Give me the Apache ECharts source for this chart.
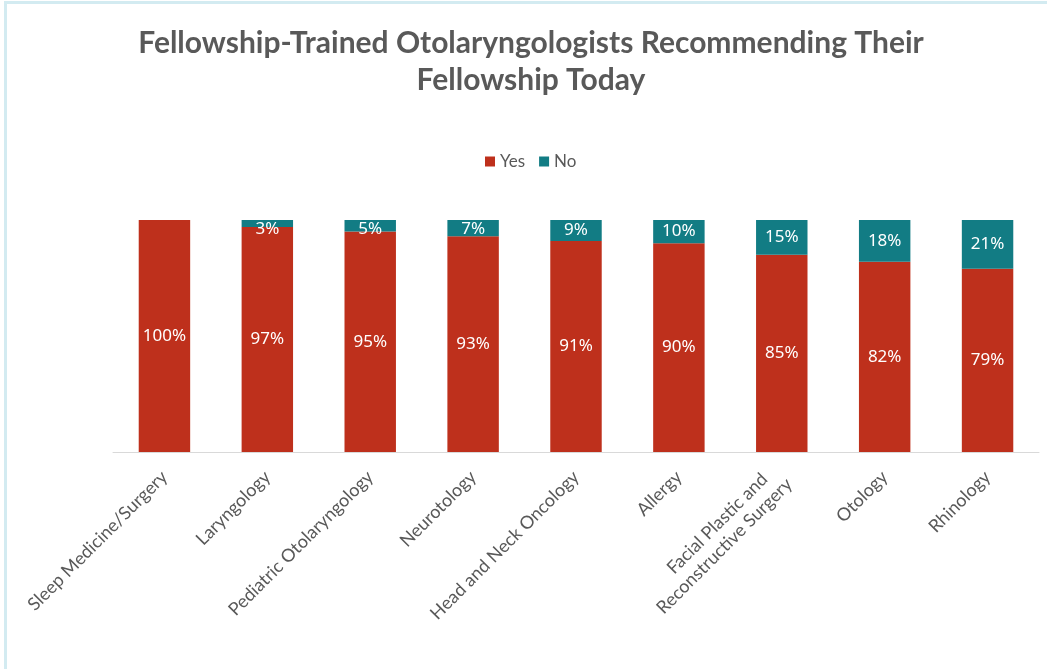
<!DOCTYPE html>
<html>
<head>
<meta charset="utf-8">
<script src="https://cdn.jsdelivr.net/npm/echarts@6/dist/echarts.min.js"></script>
<style>
  html, body { margin: 0; padding: 0; background: #fff; }
  #chart { position: absolute; left: 0; top: 0; width: 1047px; height: 669px; }
  #frame { position: absolute; left: 4px; top: 1px; width: 1060px; height: 700px;
           border-left: 3px solid #d3ebf1; border-top: 3px solid #d3ebf1; box-sizing: border-box; }
</style>
</head>
<body>
<div id="chart"></div>
<div id="frame"></div>
<script>
// 数据
const categories = [
  "Sleep Medicine/Surgery",
  "Laryngology",
  "Pediatric Otolaryngology",
  "Neurotology",
  "Head and Neck Oncology",
  "Allergy",
  "Facial Plastic and   \nReconstructive Surgery",
  "Otology",
  "Rhinology"
];
const yesValues = [100, 97, 95, 93, 91, 90, 85, 82, 79];
const noValues = [0, 3, 5, 7, 9, 10, 15, 18, 21];

const gridTop = 220;
const chart = echarts.init(document.getElementById("chart"));

const labelStyle = {
  show: true,
  position: "inside",
  color: "#fff",
  fontFamily: "Noto Sans",
  fontSize: 17,
  formatter: p => (p.value > 0 ? p.value + "%" : "")
};

// 标签不超出绘图区顶部（Excel 的做法）
const keepInside = p => {
  const cx = p.rect.x + p.rect.width / 2;
  const cy = p.rect.y + p.rect.height / 2;
  const minY = gridTop + 9;
  if (cy >= minY) return {};
  return { x: cx, y: minY, align: "center", verticalAlign: "middle" };
};

chart.setOption({
  animation: false,
  title: {
    text: "Fellowship-Trained Otolaryngologists Recommending Their\nFellowship Today",
    left: 526,
    textAlign: "center",
    top: 20,
    textStyle: {
      color: "#595959",
      fontFamily: "Lato",
      fontWeight: "bold",
      fontSize: 30,
      lineHeight: 37
    }
  },
  legend: {
    data: ["Yes", "No"],
    left: 480,
    top: 148,
    itemWidth: 10,
    itemHeight: 10,
    itemGap: 14,
    icon: "rect",
    textStyle: { color: "#595959", fontFamily: "Lato", fontSize: 17 }
  },
  grid: { left: 113, right: 8, top: gridTop, bottom: 217 },
  xAxis: {
    type: "category",
    data: categories,
    axisLine: { lineStyle: { color: "#d9d9d9", width: 1 } },
    axisTick: { show: false },
    axisLabel: {
      interval: 0,
      rotate: 45,
      margin: 22,
      color: "#595959",
      fontFamily: "Lato",
      fontSize: 18,
      lineHeight: 21
    }
  },
  yAxis: {
    type: "value",
    min: 0,
    max: 100,
    show: false,
    splitLine: { show: false }
  },
  series: [
    {
      name: "Yes",
      type: "bar",
      stack: "total",
      barWidth: "50%",
      data: yesValues,
      itemStyle: { color: "#BE301C" },
      label: labelStyle
    },
    {
      name: "No",
      type: "bar",
      stack: "total",
      barWidth: "50%",
      data: noValues,
      itemStyle: { color: "#127C84" },
      label: labelStyle,
      labelLayout: keepInside
    }
  ]
});
</script>
</body>
</html>
